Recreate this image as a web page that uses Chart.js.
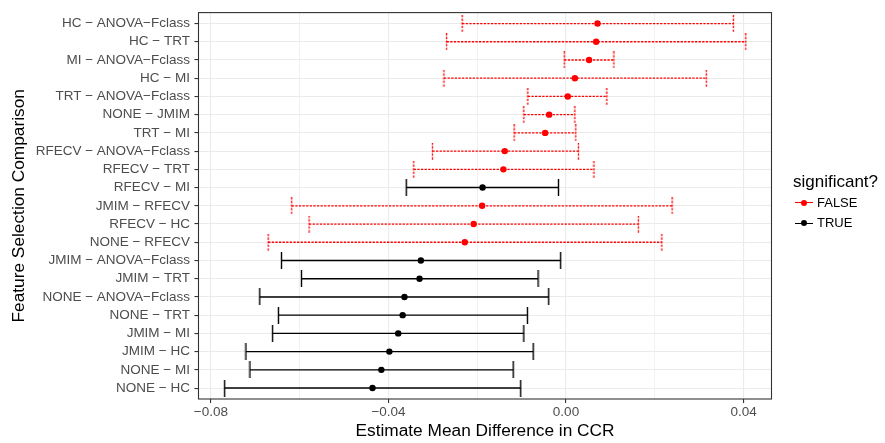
<!DOCTYPE html>
<html>
<head>
<meta charset="utf-8">
<script src="https://cdn.jsdelivr.net/npm/chart.js@4.4.1/dist/chart.umd.min.js"></script>
<style>
  html, body { margin: 0; padding: 0; background: #fff; }
  #wrap { position: relative; width: 885px; height: 443px; }
  #legend div { position: absolute; font-family: "Liberation Sans", Arial, sans-serif; color: #000; white-space: nowrap; }
  #legend .title { left: 793px; top: 172.6px; font-size: 17px; line-height: 17px; }
  #legend .label { left: 817px; font-size: 13px; line-height: 13px; }
  #legend .keyline { left: 795px; width: 18px; height: 0; border-top: 1.3px solid; }
  #legend .keydot { left: 801px; width: 6.4px; height: 6.4px; border-radius: 50%; }
</style>
</head>
<body>
<div id="wrap">
  <canvas id="ccrDiff" width="885" height="443"></canvas>
  <div id="legend">
    <div class="title">significant?</div>
    <div class="keyline" style="top: 202px; border-color: #ff0000;"></div>
    <div class="keydot" style="top: 199.5px; background: #ff0000;"></div>
    <div class="label" style="top: 195.8px;">FALSE</div>
    <div class="keyline" style="top: 222.6px; border-color: #000;"></div>
    <div class="keydot" style="top: 220.1px; background: #000;"></div>
    <div class="label" style="top: 216.4px;">TRUE</div>
  </div>
</div>
<script>
// pairwise comparisons, top to bottom
const comparisons = [
    'HC − ANOVA−Fclass',
    'HC − TRT',
    'MI − ANOVA−Fclass',
    'HC − MI',
    'TRT − ANOVA−Fclass',
    'NONE − JMIM',
    'TRT − MI',
    'RFECV − ANOVA−Fclass',
    'RFECV − TRT',
    'RFECV − MI',
    'JMIM − RFECV',
    'RFECV − HC',
    'NONE − RFECV',
    'JMIM − ANOVA−Fclass',
    'JMIM − TRT',
    'NONE − ANOVA−Fclass',
    'NONE − TRT',
    'JMIM − MI',
    'JMIM − HC',
    'NONE − MI',
    'NONE − HC'
];
const estimate = [0.0071, 0.0068, 0.0052, 0.0020, 0.0004, -0.0038, -0.0047, -0.0138, -0.0141, -0.0188, -0.0189,
    -0.0208, -0.0228, -0.0327, -0.0330, -0.0364, -0.0368, -0.0378, -0.0398, -0.0416, -0.0436];
const lower = [-0.0234, -0.0269, -0.0004, -0.0275, -0.0086, -0.0095, -0.0117, -0.0301, -0.0343, -0.0360, -0.0618,
    -0.0579, -0.0671, -0.0641, -0.0596, -0.0690, -0.0648, -0.0661, -0.0721, -0.0712, -0.0769];
const upper = [0.0377, 0.0405, 0.0108, 0.0316, 0.0092, 0.0020, 0.0022, 0.0028, 0.0063, -0.0017, 0.0239,
    0.0163, 0.0216, -0.0012, -0.0063, -0.0039, -0.0087, -0.0095, -0.0074, -0.0119, -0.0102];
const significant = [false, false, false, false, false, false, false, false, false, true, false,
    false, false, true, true, true, true, true, true, true, true];

const xMajorTicks = [-0.08, -0.04, 0, 0.04];
const xMinorTicks = [-0.06, -0.02, 0.02];

const COLORS = {
    no: '#ff0000',
    yes: '#000000',
    grid: '#ebebeb',
    border: '#333333',
    tickText: '#4d4d4d'
};
const DASH = [2.3, 1.3];

Chart.defaults.font.family = '"Liberation Sans", Arial, sans-serif';

// small vertical cap used as the point style at each whisker end
function capImage(color, dashed) {
    var c = document.createElement('canvas');
    c.width = 3;
    c.height = 17;
    var g = c.getContext('2d');
    g.strokeStyle = color;
    g.lineWidth = dashed ? 1.3 : 1.4;
    if (dashed) g.setLineDash(DASH);
    g.beginPath();
    g.moveTo(1.5, 0);
    g.lineTo(1.5, 17);
    g.stroke();
    return c;
}
const capNo = capImage(COLORS.no, true);
const capYes = capImage(COLORS.yes, false);

function fmtX(v) {
    if (v === 0) return '0.00';
    return (v < 0 ? '−' : '') + Math.abs(v).toFixed(2);
}

const datasets = [];

// estimates
datasets.push({
    label: 'FALSE',
    data: comparisons.map((c, i) => ({x: estimate[i], y: i})).filter((p, i) => !significant[i]),
    pointRadius: 3.2,
    pointBackgroundColor: COLORS.no,
    pointBorderWidth: 0
});
datasets.push({
    label: 'TRUE',
    data: comparisons.map((c, i) => ({x: estimate[i], y: i})).filter((p, i) => significant[i]),
    pointRadius: 3.2,
    pointBackgroundColor: COLORS.yes,
    pointBorderWidth: 0
});

// confidence intervals, one line per comparison
comparisons.forEach(function (c, i) {
    var sig = significant[i];
    datasets.push({
        label: c,
        data: [{x: lower[i], y: i}, {x: upper[i], y: i}],
        showLine: true,
        borderColor: sig ? COLORS.yes : COLORS.no,
        backgroundColor: sig ? COLORS.yes : COLORS.no,
        borderWidth: sig ? 1.4 : 1.3,
        borderDash: sig ? [] : DASH,
        pointStyle: sig ? capYes : capNo,
        pointRadius: 8
    });
});

const panelBorder = {
    id: 'panelBorder',
    afterDraw(chart) {
        const {ctx, chartArea} = chart;
        ctx.save();
        ctx.strokeStyle = COLORS.border;
        ctx.lineWidth = 1.1;
        ctx.strokeRect(chartArea.left, chartArea.top, chartArea.right - chartArea.left, chartArea.bottom - chartArea.top);
        ctx.restore();
    }
};

const ccrDiff = new Chart(document.getElementById('ccrDiff').getContext('2d'), {
    type: 'scatter',
    data: {datasets: datasets},
    plugins: [panelBorder],
    options: {
        responsive: false,
        animation: false,
        events: [],
        layout: {padding: {top: 9, right: 113.5, left: 0, bottom: 0}},
        plugins: {
            legend: {display: false},
            tooltip: {enabled: false}
        },
        scales: {
            x: {
                type: 'linear',
                min: -0.0828,
                max: 0.0463,
                afterBuildTicks: (scale) => {
                    scale.ticks = xMajorTicks.concat(xMinorTicks).sort((a, b) => a - b).map(v => ({value: v}));
                },
                afterFit: (scale) => { scale.height = 44; },
                border: {display: false},
                grid: {
                    color: COLORS.grid,
                    lineWidth: (ctx) => xMajorTicks.includes(ctx.tick.value) ? 1.1 : 0.7,
                    tickColor: (ctx) => xMajorTicks.includes(ctx.tick.value) ? COLORS.border : 'rgba(0,0,0,0)',
                    tickLength: 4,
                    tickWidth: 1.1
                },
                ticks: {
                    autoSkip: false,
                    maxRotation: 0,
                    padding: 1.5,
                    color: COLORS.tickText,
                    font: {size: 13.5},
                    callback: (v) => xMajorTicks.includes(v) ? fmtX(v) : ''
                },
                title: {
                    display: true,
                    text: 'Estimate Mean Difference in CCR',
                    color: '#000',
                    font: {size: 17.3},
                    padding: {top: 0, bottom: 1.5}
                }
            },
            y: {
                type: 'linear',
                reverse: true,
                min: -0.6,
                max: comparisons.length - 0.4,
                afterBuildTicks: (scale) => {
                    scale.ticks = comparisons.map((c, i) => ({value: i}));
                },
                afterFit: (scale) => { scale.width = 198.5; },
                border: {display: false},
                grid: {
                    color: COLORS.grid,
                    lineWidth: 1.1,
                    tickColor: COLORS.border,
                    tickLength: 4,
                    tickWidth: 1.1
                },
                ticks: {
                    autoSkip: false,
                    padding: 4.5,
                    color: COLORS.tickText,
                    font: {size: 13.5},
                    callback: (v) => comparisons[v]
                },
                title: {
                    display: true,
                    text: 'Feature Selection Comparison',
                    color: '#000',
                    font: {size: 17.3},
                    padding: {top: 9, bottom: 0}
                }
            }
        }
    }
});
</script>
</body>
</html>
